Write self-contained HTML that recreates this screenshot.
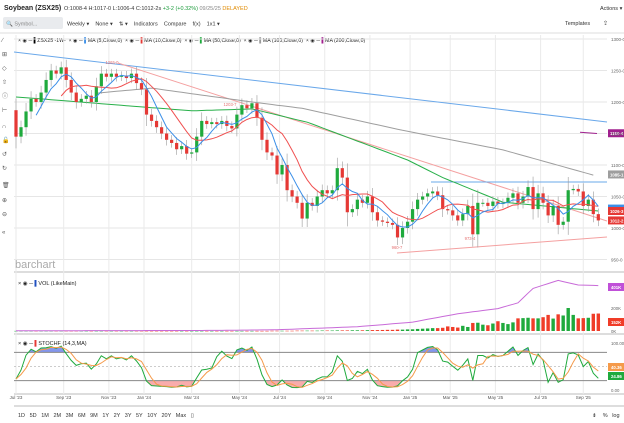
<!DOCTYPE html>
<html><head><meta charset="utf-8"><style>
body{margin:0;background:#fff;width:624px;height:423px;overflow:hidden;font-family:"Liberation Sans",sans-serif}
svg{display:block}
text{font-family:"Liberation Sans",sans-serif;white-space:pre}
</style></head><body>
<svg id="c" width="624" height="423" viewBox="0 0 624 423">
<g>
<text x="4" y="10" font-size="7" font-weight="bold" fill="#222">Soybean (ZSX25)</text>
<text x="64" y="10" font-size="5.5" fill="#333">O:1008-4 H:1017-0 L:1006-4 C:1012-2s <tspan fill="#1a9a3a">+3-2 (+0.32%)</tspan> <tspan fill="#888">09/25/25</tspan> <tspan fill="#e08a00">DELAYED</tspan></text>
<rect x="3" y="17" width="60" height="12" fill="#e9ebee" rx="2"/>
<text x="6" y="25.5" font-size="5.5" fill="#888">🔍 Symbol...</text>
<text x="67" y="25.5" font-size="5.5" fill="#333">Weekly ▾    None ▾    ⇅ ▾    Indicators    Compare    f(x)    1x1 ▾</text>
<text x="565" y="25" font-size="5.5" fill="#333">Templates</text>
<text x="600" y="10" font-size="5.5" fill="#333">Actions ▾</text>
<text x="603" y="25" font-size="6" fill="#333">⇪</text>
<text x="18" y="42" font-size="5.2" fill="#222">× ◉ ─ <tspan fill="#000">▌</tspan>ZSX25 -1W-  × ◉ ─ <tspan fill="#3b8fe8">▌</tspan>MA (5,Close,0)  × ◉ ─ <tspan fill="#e53935">▌</tspan>MA (10,Close,0)  × ◉ ─ <tspan fill="#1faa3d">▌</tspan>MA (50,Close,0)  × ◉ ─ <tspan fill="#999">▌</tspan>MA (100,Close,0)  × ◉ ─ <tspan fill="#a0208e">▌</tspan>MA (200,Close,0)</text>
</g>
<g font-size="6" fill="#555">
<text x="2" y="42">∕</text><text x="2" y="56">⊞</text><text x="2" y="70">◇</text><text x="2" y="84">⇧</text><text x="2" y="98">ⓘ</text><text x="2" y="112">⊢</text><text x="2" y="128">∩</text><text x="2" y="142">🔓</text><text x="2" y="156">↺</text><text x="2" y="170">↻</text><text x="2" y="187">🗑</text><text x="2" y="202">⊕</text><text x="2" y="216">⊖</text><text x="2" y="234">«</text>
</g>
<g id="grid"></g>
<g id="main"></g>
<g id="vol"></g>
<g id="stoch"></g>
<g id="axes"></g>
<text x="15" y="268" font-size="11" fill="#aaa">barchart</text>
<text x="18" y="285" font-size="5.5" fill="#222">× ◉ ─ <tspan fill="#2050c0">▌</tspan>VOL (LikeMain)</text>
<text x="18" y="345" font-size="5.5" fill="#222">× ◉ ─ <tspan fill="#e53935">▌</tspan>STOCHF (14,3,MA)</text>
<text x="18" y="417" font-size="5.5" fill="#333">1D   5D   1M   2M   3M   6M   9M   1Y   2Y   3Y   5Y   10Y   20Y   Max   ▯</text>
<text x="592" y="417" font-size="5.5" fill="#333">⇟    %   log</text>
</svg>
<script>
const closes=[1145,1160,1185,1205,1200,1215,1235,1250,1245,1255,1235,1215,1200,1205,1210,1200,1225,1245,1240,1245,1240,1242,1238,1245,1230,1220,1180,1170,1160,1150,1140,1135,1125,1130,1118,1120,1145,1170,1165,1168,1165,1170,1162,1158,1180,1195,1190,1198,1175,1140,1120,1115,1085,1100,1060,1050,1040,1015,1040,1035,1050,1060,1055,1060,1095,1080,1025,1030,1045,1040,1050,1025,1012,1010,1008,1005,985,1000,1010,1030,1045,1050,1055,1058,1052,1030,1028,1020,1012,1022,1035,990,1040,1040,1035,1042,1038,1040,1048,1055,1040,1050,1065,1030,1055,1040,1020,1035,1005,1010,1060,1062,1058,1035,1045,1022,1012];
const firstOpen=1187;
const volumes=[1,1,1,1,1,1,1,1,1,1,1,1,1,1,1,1,1,1,1,1,1,1,1,1,1,1,1,1,1,1,1,1,1,1,1,1,1,1,1,1,1,1,1,1,1,1,1,1,1,1,1,2,2,2,2,2,3,3,3,3,3,4,4,4,5,5,5,6,6,6,7,8,8,9,10,10,12,12,14,15,18,20,22,25,25,28,40,35,30,45,35,70,72,55,50,65,85,70,60,75,110,112,115,110,110,120,140,108,145,135,200,140,110,112,115,150,152];
const oiIdx=[0,40,52,68,79,88,96,100,103,108,112,116];
const oiVals=[2,5,11,37,77,150,195,245,370,440,400,395];
const ma50Idx=[0,35,47,58,78,85,97,116];
const ma50Vals=[1208,1186,1189,1168,1108,1080,1041,1027];
const ma100Idx=[16,27,47,57,77,97,115];
const ma100Vals=[1214,1222,1200,1190,1155,1124,1084];
const priceTicks=[1300,1250,1200,1150,1100,1050,1000,950];
const dateLabels=["Jul '23","Sep '23","Nov '23","Jan '24","Mar '24","May '24","Jul '24","Sep '24","Nov '24","Jan '25","Mar '25","May '25","Jul '25","Sep '25"];
const dateIdx=[0,9.5,18.5,25.5,35,44.5,52.5,61.5,70.5,78.5,86.5,95.5,104.5,113];

const NS="http://www.w3.org/2000/svg";
const X0=16,DX=5.02,PL=14,PR=607;
const xs=i=>X0+DX*i;
const yp=p=>228-(p-1000)*0.63;
const yv=v=>331-v*0.115;
const ys=v=>390-v*0.47;
function mk(par,tag,at){const e=document.createElementNS(NS,tag);for(const k in at)e.setAttribute(k,at[k]);par.appendChild(e);return e;}
const G=id=>document.getElementById(id);
const grid=G('grid'),main=G('main'),vol=G('vol'),st=G('stoch'),ax=G('axes');

let e;
e=mk(grid,'line',{x1:0,y1:33,x2:624,y2:33,stroke:'#ddd'});

[[272,'main-divider'],[334,'vol-divider'],[394,'stoch-divider'],[406,'axis-divider']].forEach(a=>{
 e=mk(grid,'line',{x1:PL,y1:a[0],x2:624,y2:a[0],stroke:'#bbb','stroke-width':1});
 
});
priceTicks.forEach(p=>{
 e=mk(grid,'line',{x1:PL,y1:yp(p),x2:PR,y2:yp(p),stroke:'#e6e6e6'});
 
 e=mk(ax,'text',{x:611,y:yp(p)+2,'font-size':4.5,fill:'#666'});e.textContent=p+'-0';
 
});
dateIdx.forEach((d,k)=>{
 const x=xs(d);
 e=mk(grid,'line',{x1:x,y1:35,x2:x,y2:394,stroke:'#eaeaea'});
 
 e=mk(ax,'text',{x:x,y:399,'font-size':4.5,fill:'#555','text-anchor':'middle'});e.textContent=dateLabels[k];
 
});

const opens=closes.map((c,i)=>i?closes[i-1]:firstOpen);
const highs=closes.map((c,i)=>Math.max(c,opens[i])+6+Math.abs(c-opens[i])*0.3);
const lows=closes.map((c,i)=>Math.min(c,opens[i])-6-Math.abs(c-opens[i])*0.3);

[[PL,52,PR,122,'#6aa8ea','resistance-trendline'],[118,63,PR,221,'#f4a0a0','down-trendline'],[397,253,PR,237,'#f4a0a0','support-trendline'],[431,182,PR,182,'#6aa8ea','horizontal-line']].forEach(a=>{
 e=mk(main,'line',{x1:a[0],y1:a[1],x2:a[2],y2:a[3],stroke:a[4],'stroke-width':1});
 
});

function interp(idx,vals){const out=[];for(let i=idx[0];i<=idx[idx.length-1];i++){let k=0;while(k<idx.length-2&&i>idx[k+1])k++;const t=(i-idx[k])/(idx[k+1]-idx[k]);out.push([i,vals[k]+(vals[k+1]-vals[k])*t]);}return out;}
function poly(par,pts,col,name,w){const p=mk(par,'polyline',{points:pts.map(q=>q[0].toFixed(1)+','+q[1].toFixed(1)).join(' '),fill:'none',stroke:col,'stroke-width':w||1});return p;}
poly(main,interp(ma100Idx,ma100Vals).map(q=>[xs(q[0]),yp(q[1])]),'#9e9e9e','ma100-line');
poly(main,interp(ma50Idx,ma50Vals).map(q=>[xs(q[0]),yp(q[1])]),'#28b04a','ma50-line');
e=mk(main,'line',{x1:580,y1:yp(1152),x2:597,y2:yp(1150),stroke:'#a0208e','stroke-width':1});


closes.forEach((c,i)=>{
 const o=opens[i],x=xs(i),up=c>=o,col=up?'#1faa3d':'#e53935';
 e=mk(main,'line',{x1:x,y1:yp(highs[i]),x2:x,y2:yp(lows[i]),stroke:'#999','stroke-width':0.6});
 
 const y1=yp(Math.max(o,c)),h=Math.max(1,Math.abs(yp(o)-yp(c)));
 e=mk(main,'rect',{x:x-1.6,y:y1,width:3.2,height:h,fill:col});
 
});
function sma(arr,n){return arr.map((v,i)=>{if(i<n-1)return null;let s=0;for(let k=i-n+1;k<=i;k++)s+=arr[k];return s/n;});}
const ma10=sma(closes,10),ma5=sma(closes,5);
poly(main,ma10.map((v,i)=>v==null?null:[xs(i),yp(v)]).filter(Boolean),'#f05050','ma10-line');
poly(main,ma5.map((v,i)=>v==null?null:[xs(i),yp(v)]).filter(Boolean),'#3b8fe8','ma5-line');

[[112,64,'1265-0'],[230,106,'1203-7'],[397,249,'960-7'],[470,240,'973-4']].forEach(a=>{
 e=mk(main,'text',{x:a[0],y:a[1],'font-size':4.2,fill:'#e57373','text-anchor':'middle'});e.textContent=a[2];
 
});
function tag(par,y,txt,bg,name){e=mk(par,'rect',{x:608,y:y-4,width:16,height:8,fill:bg});
 e=mk(par,'text',{x:610,y:y+2,'font-size':4.3,fill:'#fff','font-weight':'bold'});e.textContent=txt;}
tag(main,yp(1150.4),'1150-4','#a0208e','ma200-tag');
tag(main,yp(1085),'1085-1','#9e9e9e','ma100-tag');
e=mk(main,'rect',{x:608,y:yp(1034)-2,width:16,height:3,fill:'#3b8fe8'});
tag(main,yp(1027),'1026-3','#e53935','ma10-tag');
tag(main,yp(1012),'1012-2','#e53935','last-price-tag');

volumes.forEach((v,i)=>{
 const up=i===0||closes[i]>=closes[i-1];
 e=mk(vol,'rect',{x:xs(i)-1.7,y:yv(v),width:3.4,height:Math.max(0.5,331-yv(v)),fill:up?'#1faa3d':'#f03c28'});
 
});
poly(vol,interp(oiIdx,oiVals).map(q=>[xs(q[0]),yv(q[1])]),'#c86ad8','volume-average-line');
[[200,'200K'],[0,'0K']].forEach(a=>{e=mk(vol,'text',{x:611,y:yv(a[0])+2,'font-size':4.3,fill:'#666'});e.textContent=a[1];});
e=mk(vol,'rect',{x:608,y:283,width:16,height:8,fill:'#c050d8'});
e=mk(vol,'text',{x:611,y:289,'font-size':4.3,fill:'#fff','font-weight':'bold'});e.textContent='401K';
e=mk(vol,'rect',{x:608,y:318,width:16,height:8,fill:'#f03c28'});
e=mk(vol,'text',{x:611,y:324,'font-size':4.3,fill:'#fff','font-weight':'bold'});e.textContent='152K';

// fast stochastic: K = raw %K, D = 3-period MA
const K=closes.map((c,i)=>{const a=Math.max(0,i-13);let hh=-1e9,ll=1e9;for(let k=a;k<=i;k++){hh=Math.max(hh,highs[k]);ll=Math.min(ll,lows[k]);}return hh>ll?(c-ll)/(hh-ll)*100:50;});
const D=K.map((v,i)=>{const a=Math.max(0,i-2);let s=0;for(let k=a;k<=i;k++)s+=K[k];return s/(i-a+1);});
const defs=mk(st,'defs',{});
const c1=mk(defs,'clipPath',{id:'above'});mk(c1,'rect',{x:0,y:0,width:624,height:ys(80)});
const c2=mk(defs,'clipPath',{id:'below'});mk(c2,'rect',{x:0,y:ys(20),width:624,height:100});
const kp=K.map((v,i)=>xs(i).toFixed(1)+','+ys(v).toFixed(1)).join(' ');
e=mk(st,'polygon',{points:xs(0)+','+ys(80)+' '+kp+' '+xs(K.length-1)+','+ys(80),fill:'#3050e0','fill-opacity':0.6,'clip-path':'url(#above)'});

e=mk(st,'polygon',{points:xs(0)+','+ys(20)+' '+kp+' '+xs(K.length-1)+','+ys(20),fill:'#f03030','fill-opacity':0.4,'clip-path':'url(#below)'});

[[80,'#888','none','level-80'],[20,'#888','none','level-20'],[50,'#999','2,2','level-50']].forEach(a=>{
 e=mk(st,'line',{x1:PL,y1:ys(a[0]),x2:PR,y2:ys(a[0]),stroke:a[1],'stroke-dasharray':a[2],'stroke-width':a[2]=='none'?1:0.6});
 
});
poly(st,K.map((v,i)=>[xs(i),ys(v)]),'#1faa3d','stoch-k-line');
poly(st,D.map((v,i)=>[xs(i),ys(v)]),'#f59a4a','stoch-d-line');
[[100,'100.00'],[0,'0.00']].forEach(a=>{e=mk(st,'text',{x:611,y:ys(a[0])+2,'font-size':4.3,fill:'#666'});e.textContent=a[1];});
e=mk(st,'rect',{x:608,y:363,width:16,height:8,fill:'#f59a4a'});
e=mk(st,'text',{x:611,y:369,'font-size':4.3,fill:'#fff','font-weight':'bold'});e.textContent=D[D.length-1].toFixed(2);
e=mk(st,'rect',{x:608,y:372,width:16,height:8,fill:'#1faa3d'});
e=mk(st,'text',{x:611,y:378,'font-size':4.3,fill:'#fff','font-weight':'bold'});e.textContent=K[K.length-1].toFixed(2);
</script>
</body></html>
